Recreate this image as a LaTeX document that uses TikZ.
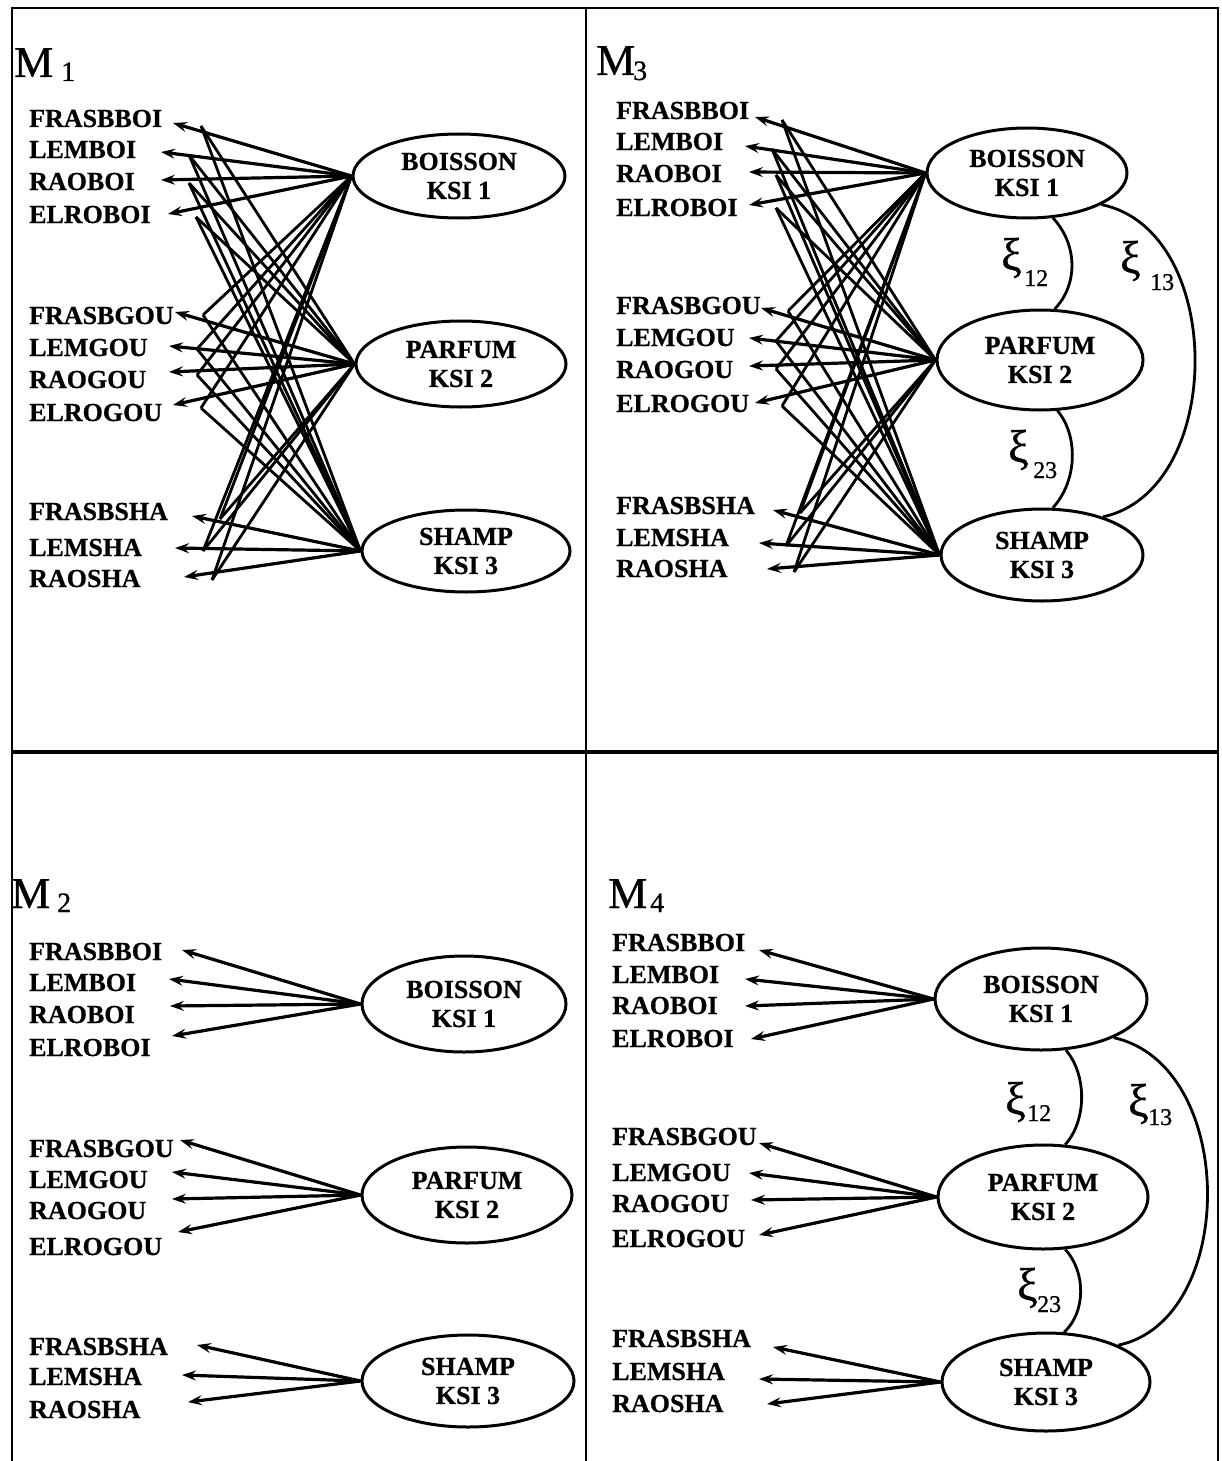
\documentclass[tikz,border=0pt]{standalone}
\usepackage{fontspec}
\setmainfont{Liberation Serif}
\newfontfamily\heavyfont{Liberation Serif}[BoldFeatures={FakeBold=0.6}]
\newfontfamily\midfont{Liberation Serif}[UprightFeatures={FakeBold=0.8}]
\usetikzlibrary{shapes.geometric,arrows.meta}
\tikzset{
 lbl/.style={font=\heavyfont\bfseries\fontsize{26}{26}\selectfont, anchor=base west, inner sep=0pt},
 lat/.style={ellipse, draw, line width=3pt, align=center, inner sep=0pt, font=\heavyfont\bfseries\fontsize{26}{29}\selectfont, fill=white},
 load/.style={line width=3.2pt, -{Stealth[length=14pt,width=10pt,inset=5pt]}},
 crossl/.style={line width=2.8pt},
 corr/.style={line width=2.8pt},
 frm/.style={line width=2.6pt},
 ttl/.style={font=\midfont\fontsize{44}{44}\selectfont, anchor=base west, inner sep=0pt},
 sbs/.style={font=\midfont\fontsize{28}{28}\selectfont, anchor=base west, inner sep=0pt},
 xi/.style={font=\midfont\fontsize{46}{46}\selectfont, anchor=base west, inner sep=0pt},
 xis/.style={font=\midfont\fontsize{24}{24}\selectfont, anchor=base west, inner sep=0pt},
}
\begin{document}
\begin{tikzpicture}[x=1pt,y=-1pt]
\useasboundingbox (0,0) rectangle (1222,1461);
\fill[white] (0,0) rectangle (1222,1461);
% frame
\draw[frm] (12,1461) -- (12,8) -- (1218,8) -- (1218,1461);
\draw[frm] (586,8) -- (586,1461);
\draw[line width=4pt] (12,752) -- (1218,752);
% titles
\node[ttl] (t1) at (14,77) {M};
\node[sbs] (t1s) at (61,81) {1};
\node[ttl] (t3) at (596,75) {M};
\node[sbs] (t3s) at (633,80) {3};
\node[ttl] (t2) at (11,908) {M};
\node[sbs] (t2s) at (57,912) {2};
\node[ttl] (t4) at (608,908) {M};
\node[sbs] (t4s) at (650,912) {4};

% ================= M1 =================
\node[lat, minimum width=212pt, minimum height=84pt] (b1) at (459,176) {BOISSON\\KSI 1};
\node[lat, minimum width=210pt, minimum height=86pt] (p1) at (461,364) {PARFUM\\KSI 2};
\node[lat, minimum width=208pt, minimum height=82pt] (s1) at (466,551) {SHAMP\\KSI 3};
\foreach \n/\t/\y/\tx/\ty in {fb/FRASBBOI/119/173/123, lb/LEMBOI/150/161/152, rb/RAOBOI/182/161/180, eb/ELROBOI/215/168/214, fg/FRASBGOU/316/175/312, lg/LEMGOU/348/169/346, rg/RAOGOU/380/169/372, eg/ELROGOU/413/173/405, fs/FRASBSHA/512/192/516, ls/LEMSHA/548/175/548, rs/RAOSHA/579/184/577}
{ \node[lbl] (m1\n) at (29,\y+8) {\t};
  \coordinate (m1\n-t) at (\tx,\ty);
  \coordinate (m1\n-c) at (\tx+28,\ty+3); }
\foreach \i in {fb,lb,rb,eb} \draw[load] (b1.west) -- (m1\i-t);
\foreach \i in {fg,lg,rg,eg} \draw[load] (p1.west) -- (m1\i-t);
\foreach \i in {fs,ls,rs} \draw[load] (s1.west) -- (m1\i-t);
\foreach \i in {fg,lg,rg,eg,fs,ls,rs} \draw[crossl] (b1.west) -- (m1\i-c);
\foreach \i in {fb,lb,rb,eb,fs,ls,rs} \draw[crossl] (p1.west) -- (m1\i-c);
\foreach \i in {fb,lb,rb,eb,fg,lg,rg,eg} \draw[crossl] (s1.west) -- (m1\i-c);

% ================= M3 =================
\node[lat, minimum width=200pt, minimum height=90pt] (b3) at (1027,173) {BOISSON\\KSI 1};
\node[lat, minimum width=206pt, minimum height=100pt] (p3) at (1040,360) {PARFUM\\KSI 2};
\node[lat, minimum width=202pt, minimum height=92pt] (s3) at (1042,555) {SHAMP\\KSI 3};
\foreach \n/\t/\y/\tx/\ty in {fb/FRASBBOI/111/755/117, lb/LEMBOI/142/745/146, rb/RAOBOI/174/749/172, eb/ELROBOI/208/749/205, fg/FRASBGOU/306/761/308, lg/LEMGOU/338/749/338, rg/RAOGOU/370/749/366, eg/ELROGOU/404/755/403, fs/FRASBSHA/506/773/510, ls/LEMSHA/538/759/543, rs/RAOSHA/569/767/569}
{ \node[lbl] (m3\n) at (616,\y+8) {\t};
  \coordinate (m3\n-t) at (\tx,\ty);
  \coordinate (m3\n-c) at (\tx+27,\ty+3); }
\foreach \i in {fb,lb,rb,eb} \draw[load] (b3.west) -- (m3\i-t);
\foreach \i in {fg,lg,rg,eg} \draw[load] (p3.west) -- (m3\i-t);
\foreach \i in {fs,ls,rs} \draw[load] (s3.west) -- (m3\i-t);
\foreach \i in {fg,lg,rg,eg,fs,ls,rs} \draw[crossl] (b3.west) -- (m3\i-c);
\foreach \i in {fb,lb,rb,eb,fs,ls,rs} \draw[crossl] (p3.west) -- (m3\i-c);
\foreach \i in {fb,lb,rb,eb,fg,lg,rg,eg} \draw[crossl] (s3.west) -- (m3\i-c);
\draw[corr] (b3.-60) .. controls (1078,245) and (1078,285) .. (p3.74);
\draw[corr] (b3.-23) .. controls (1226,230) and (1226,490) .. (s3.32);
\draw[corr] (p3.-71) .. controls (1078,435) and (1078,480) .. (s3.77);
\node[xi] (x312) at (1001,270) {ξ};
\node[xis] (x312s) at (1024,286) {12};
\node[xi] (x313) at (1120,273) {ξ};
\node[xis] (x313s) at (1150,290) {13};
\node[xi] (x323) at (1008,462) {ξ};
\node[xis] (x323s) at (1033,478) {23};

% ================= M2 =================
\node[lat, minimum width=204pt, minimum height=96pt] (b2) at (464,1004) {BOISSON\\KSI 1};
\node[lat, minimum width=210pt, minimum height=96pt] (p2) at (467,1195) {PARFUM\\KSI 2};
\node[lat, minimum width=212pt, minimum height=92pt] (s2) at (468,1381) {SHAMP\\KSI 3};
\foreach \n/\t/\y/\tx/\ty in {fb/FRASBBOI/952/182/950, lb/LEMBOI/983/169/979, rb/RAOBOI/1015/170/1006, eb/ELROBOI/1048/172/1036, fg/FRASBGOU/1149/180/1140, lg/LEMGOU/1180/172/1172, rg/RAOGOU/1211/172/1199, eg/ELROGOU/1247/178/1232, fs/FRASBSHA/1347/197/1345, ls/LEMSHA/1377/182/1375, rs/RAOSHA/1410/188/1402}
{ \node[lbl] (m2\n) at (29,\y+8) {\t};
  \coordinate (m2\n-t) at (\tx,\ty); }
\foreach \i in {fb,lb,rb,eb} \draw[load] (b2.west) -- (m2\i-t);
\foreach \i in {fg,lg,rg,eg} \draw[load] (p2.west) -- (m2\i-t);
\foreach \i in {fs,ls,rs} \draw[load] (s2.west) -- (m2\i-t);

% ================= M4 =================
\node[lat, minimum width=212pt, minimum height=102pt] (b4) at (1041,999) {BOISSON\\KSI 1};
\node[lat, minimum width=210pt, minimum height=104pt] (p4) at (1043,1197) {PARFUM\\KSI 2};
\node[lat, minimum width=208pt, minimum height=98pt] (s4) at (1046,1382) {SHAMP\\KSI 3};
\foreach \n/\t/\y/\tx/\ty in {fb/FRASBBOI/943/759/950, lb/LEMBOI/975/745/979, rb/RAOBOI/1006/745/1006, eb/ELROBOI/1039/751/1039, fg/FRASBGOU/1137/759/1143, lg/LEMGOU/1173/749/1173, rg/RAOGOU/1204/751/1200, eg/ELROGOU/1239/759/1235, fs/FRASBSHA/1339/773/1347, ls/LEMSHA/1372/759/1379, rs/RAOSHA/1404/767/1404}
{ \node[lbl] (m4\n) at (612,\y+8) {\t};
  \coordinate (m4\n-t) at (\tx,\ty); }
\foreach \i in {fb,lb,rb,eb} \draw[load] (b4.west) -- (m4\i-t);
\foreach \i in {fg,lg,rg,eg} \draw[load] (p4.west) -- (m4\i-t);
\foreach \i in {fs,ls,rs} \draw[load] (s4.west) -- (m4\i-t);
\draw[corr] (b4.-64) .. controls (1087,1075) and (1087,1120) .. (p4.67);
\draw[corr] (b4.-28) .. controls (1238,1065) and (1238,1320) .. (s4.27);
\draw[corr] (p4.-67) .. controls (1086,1272) and (1086,1312) .. (s4.70);
\node[xi] (x412) at (1005,1114) {ξ};
\node[xis] (x412s) at (1027,1121) {12};
\node[xi] (x413) at (1128,1116) {ξ};
\node[xis] (x413s) at (1148,1125) {13};
\node[xi] (x423) at (1017,1300) {ξ};
\node[xis] (x423s) at (1037,1312) {23};
\end{tikzpicture}
\end{document}
